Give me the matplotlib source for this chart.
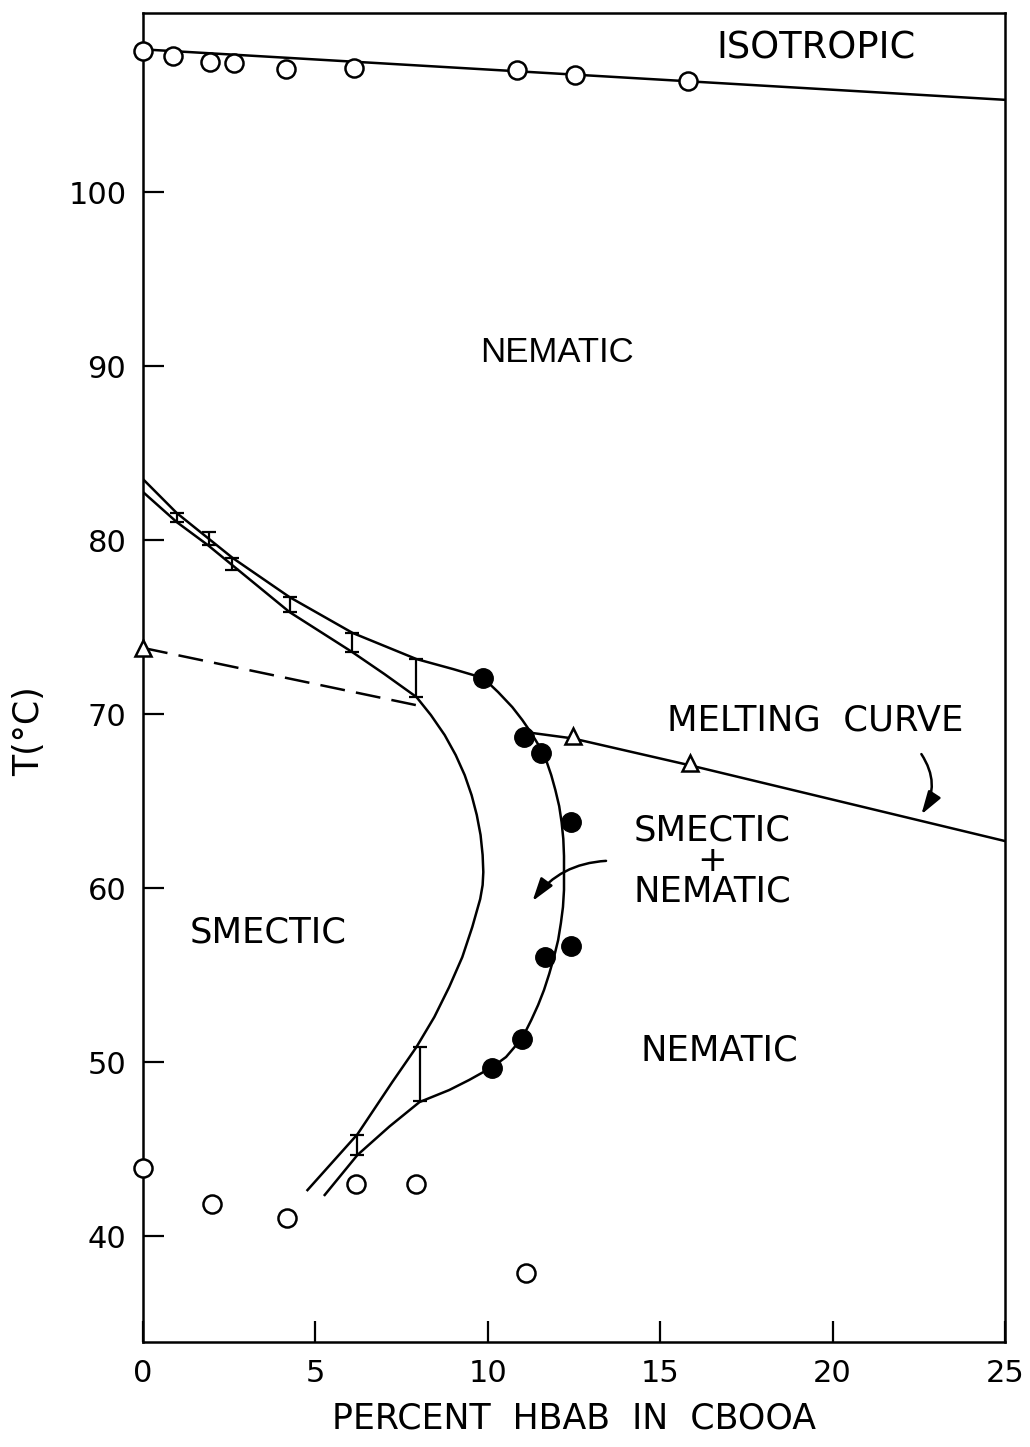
import matplotlib
matplotlib.use('Agg')
import matplotlib.pyplot as plt

# isotropic - nematic transition
iso_x = [0, 0.86, 1.94, 2.63, 4.14, 6.13, 10.85, 12.53, 15.80]
iso_t = [108.1, 107.8, 107.5, 107.4, 107.1, 107.15, 107.0, 106.7, 106.4]
iso_line_x = [0, 25]
iso_line_t = [108.2, 105.3]

# upper boundary of the smectic + nematic region
upper_x = [0, 0.98, 2.60, 4.25, 6.08, 7.93, 9.0, 9.87, 10.30, 10.71, 11.0, 11.26, 11.49,
           11.69, 11.84, 11.96, 12.07, 12.14, 12.19, 12.21, 12.21, 12.21, 12.18, 12.12,
           12.04, 11.92, 11.78, 11.63, 11.46, 11.26, 11.0, 10.53, 10.13, 9.46, 8.88,
           8.02, 7.15, 6.22, 5.27]
upper_t = [83.5, 81.55, 78.97, 76.72, 74.66, 73.16, 72.58, 72.07, 71.26, 70.40, 69.66, 68.91, 68.16,
           67.36, 66.49, 65.63, 64.71, 63.79, 62.82, 61.84, 60.86, 59.89, 58.91, 57.99,
           57.01, 56.03, 55.06, 54.14, 53.28, 52.41, 51.38, 50.29, 49.71, 48.97, 48.39,
           47.70, 46.30, 44.66, 42.36]

# lower boundary (smectic side)
lower_x = [0, 0.98, 1.88, 4.25, 6.07, 7.0, 7.93, 8.35, 8.75, 9.07, 9.33, 9.53, 9.68,
           9.79, 9.85, 9.87, 9.85, 9.78, 9.55, 9.26, 8.88, 8.45, 7.93, 7.23, 6.22, 4.77]
lower_t = [82.76, 81.03, 79.71, 75.86, 73.56, 72.3, 70.98, 69.94, 68.79, 67.64, 66.49, 65.34, 64.20,
           63.05, 61.90, 60.92, 60.17, 59.37, 57.76, 56.03, 54.31, 52.59, 50.86, 48.85, 45.85, 42.64]

# error bars
eb_x = [0.98, 1.90, 2.58, 4.25, 6.07, 7.93, 8.03, 6.22]
eb_lo = [81.03, 79.71, 78.30, 75.86, 73.56, 70.98, 47.75, 44.66]
eb_hi = [81.55, 80.46, 78.97, 76.72, 74.66, 73.16, 50.86, 45.8]

# filled circles
fill_x = [9.87, 11.05, 11.55, 12.41, 11.66, 12.41, 11.0, 10.13]
fill_t = [72.07, 68.68, 67.76, 63.79, 56.03, 56.67, 51.32, 49.66]

# open circles, low temperature
low_x = [0, 2.0, 4.17, 6.19, 7.93, 11.11]
low_t = [43.9, 41.84, 41.03, 42.99, 42.99, 37.87]

# melting curve
melt_x = [11.33, 12.46, 15.87, 25]
melt_t = [68.9, 68.6, 67.05, 62.7]
tri_x = [0, 12.46, 15.87]
tri_t = [73.8, 68.75, 67.2]

dash_x = [0, 7.95]
dash_t = [73.8, 70.5]

plt.rcParams['font.family'] = ['DejaVu Sans']
lw = 1.8

fig = plt.figure(figsize=(10.3, 14.47), dpi=100)
ax = fig.add_axes([143 / 1030, 1 - 1342 / 1447, (1005 - 143) / 1030, (1342 - 13) / 1447])
ax.set_xlim(0, 25)
ax.set_ylim(33.91, 110.29)

ax.plot(iso_line_x, iso_line_t, color='black', lw=lw)
ax.plot(iso_x, iso_t, 'o', ms=13, mfc='white', mec='black', mew=1.8, clip_on=False, zorder=5)

ax.plot(upper_x, upper_t, color='black', lw=lw, solid_joinstyle='round')
ax.plot(lower_x, lower_t, color='black', lw=lw, solid_joinstyle='round')

mid = [(a + b) / 2 for a, b in zip(eb_lo, eb_hi)]
ax.errorbar(eb_x, mid, yerr=[[m - a for m, a in zip(mid, eb_lo)], [b - m for m, b in zip(mid, eb_hi)]],
            fmt='none', ecolor='black', elinewidth=1.6, capsize=5, capthick=1.6)

ax.plot(fill_x, fill_t, 'o', ms=14, color='black', zorder=5)
ax.plot(low_x, low_t, 'o', ms=13, mfc='white', mec='black', mew=1.8, clip_on=False, zorder=5)

ax.plot(melt_x, melt_t, color='black', lw=lw)
ax.plot(tri_x, tri_t, '^', ms=11, mfc='white', mec='black', mew=1.8, clip_on=False, zorder=5)
ax.plot(dash_x, dash_t, color='black', lw=lw, dashes=(10, 4.5))

arrow_style = '-|>,head_width=0.22,head_length=0.7'
ax.annotate('', xy=(22.53, 64.1), xytext=(22.53, 67.83),
            arrowprops=dict(arrowstyle=arrow_style, color='black', lw=1.8,
                            mutation_scale=20, connectionstyle='arc3,rad=-0.35'))
ax.annotate('', xy=(11.25, 59.12), xytext=(13.51, 61.57),
            arrowprops=dict(arrowstyle=arrow_style, color='black', lw=1.8,
                            mutation_scale=20, connectionstyle='arc3,rad=0.25'))

fs = 25.5
ax.text(19.53, 108.28, 'ISOTROPIC', fontsize=26.5, ha='center', va='center')
ax.text(12.0, 90.8, 'NEMATIC', fontsize=25, ha='center', va='center', family='Liberation Sans')
ax.text(19.5, 69.6, 'MELTING  CURVE', fontsize=fs, ha='center', va='center')
ax.text(16.5, 61.55, 'SMECTIC\n+\nNEMATIC', fontsize=fs, ha='center', va='center',
        multialignment='center', linespacing=0.88)
ax.text(3.62, 57.47, 'SMECTIC', fontsize=fs, ha='center', va='center')
ax.text(16.72, 50.69, 'NEMATIC', fontsize=fs, ha='center', va='center')

ax.set_xticks([0, 5, 10, 15, 20, 25])
ax.set_yticks([40, 50, 60, 70, 80, 90, 100])
ax.tick_params(direction='in', length=15, width=1.6, labelsize=22, pad=12)
for s in ax.spines.values():
    s.set_linewidth(lw)

ax.set_xlabel('PERCENT  HBAB  IN  CBOOA', fontsize=25, labelpad=10)
ax.set_ylabel('T(°C)', fontsize=25)
ax.yaxis.set_label_coords(-0.132, 0.46)
ax.yaxis.label.set_verticalalignment('center')

fig.savefig('out.png', dpi=100)
